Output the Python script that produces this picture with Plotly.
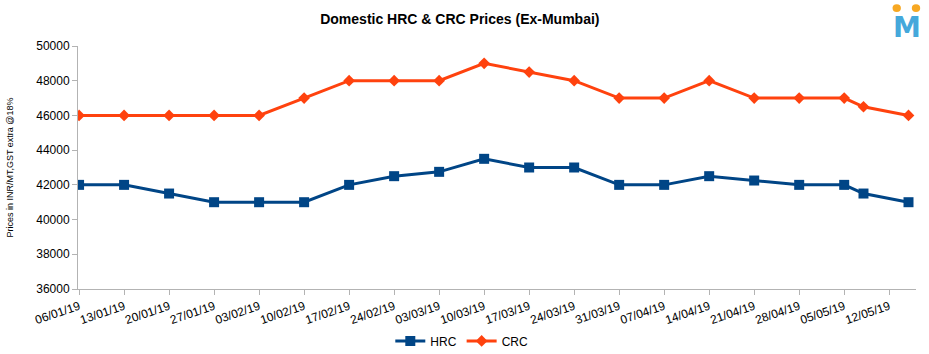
import plotly.graph_objects as go

dates = ["2019-01-06", "2019-01-13", "2019-01-20", "2019-01-27", "2019-02-03", "2019-02-10",
         "2019-02-17", "2019-02-24", "2019-03-03", "2019-03-10", "2019-03-17", "2019-03-24",
         "2019-03-31", "2019-04-07", "2019-04-14", "2019-04-21", "2019-04-28", "2019-05-05",
         "2019-05-08", "2019-05-15"]
hrc = [42000, 42000, 41500, 41000, 41000, 41000, 42000, 42500, 42750, 43500, 43000, 43000,
       42000, 42000, 42500, 42250, 42000, 42000, 41500, 41000]
crc = [46000, 46000, 46000, 46000, 46000, 47000, 48000, 48000, 48000, 49000, 48500, 48000,
       47000, 47000, 48000, 47000, 47000, 47000, 46500, 46000]
tick_dates = ["2019-01-06", "2019-01-13", "2019-01-20", "2019-01-27", "2019-02-03", "2019-02-10",
              "2019-02-17", "2019-02-24", "2019-03-03", "2019-03-10", "2019-03-17", "2019-03-24",
              "2019-03-31", "2019-04-07", "2019-04-14", "2019-04-21", "2019-04-28", "2019-05-05",
              "2019-05-12"]
tick_labels = ["06/01/19", "13/01/19", "20/01/19", "27/01/19", "03/02/19", "10/02/19",
               "17/02/19", "24/02/19", "03/03/19", "10/03/19", "17/03/19", "24/03/19",
               "31/03/19", "07/04/19", "14/04/19", "21/04/19", "28/04/19", "05/05/19",
               "12/05/19"]
y_ticks = [36000, 38000, 40000, 42000, 44000, 46000, 48000, 50000]

FONT = "Liberation Sans, Arial, sans-serif"

fig = go.Figure()
fig.add_trace(go.Scatter(x=dates, y=hrc, name="HRC", mode="lines+markers",
                         line=dict(color="#004586", width=3),
                         marker=dict(symbol="square", size=10, color="#004586")))
fig.add_trace(go.Scatter(x=dates, y=crc, name="CRC", mode="lines+markers",
                         line=dict(color="#ff420e", width=3),
                         marker=dict(symbol="diamond", size=9, color="#ff420e")))

fig.update_layout(
    width=929, height=354,
    margin=dict(l=78, r=13, t=46, b=65, autoexpand=False),
    paper_bgcolor="white", plot_bgcolor="white",
    font=dict(family=FONT, color="#000000", size=12),
    title=dict(text="<b>Domestic HRC & CRC Prices (Ex-Mumbai)</b>", x=0.495, xanchor="center",
               y=0.946, yanchor="middle", font=dict(size=14, family=FONT)),
    showlegend=True,
    legend=dict(orientation="h", x=0.458, xanchor="center", yref="container",
                y=0.037, yanchor="middle",
                font=dict(size=12, family=FONT), itemwidth=30, tracegroupgap=0),
    xaxis=dict(type="date", range=["2019-01-05 20:00", "2019-05-16 04:00"],
               tickvals=tick_dates, ticktext=tick_labels, tickangle=-19,
               showgrid=False, showline=True, linecolor="#b3b3b3", linewidth=1,
               ticks="outside", ticklen=5, tickcolor="#b3b3b3", automargin=False,
               tickfont=dict(size=12, family=FONT), zeroline=False),
    yaxis=dict(range=[36000, 50000], tickvals=y_ticks, tickformat="d", showgrid=False,
               showline=True, linecolor="#b3b3b3", linewidth=1, automargin=False,
               ticks="outside", ticklen=5, tickcolor="#b3b3b3",
               tickfont=dict(size=12, family=FONT), zeroline=False),
)

# y-axis title
fig.add_annotation(text="Prices in INR/MT,GST extra @18%", xref="paper", yref="paper",
                   x=-0.0823, y=0.5, textangle=-90, showarrow=False,
                   xanchor="center", yanchor="middle", font=dict(size=9, family=FONT))

# logo
fig.add_annotation(text="<b>M</b>", xref="paper", yref="paper", x=0.989, y=1.078,
                   xanchor="center", yanchor="middle", showarrow=False,
                   font=dict(size=28, color="#45a8db", family="DejaVu Sans"))
for cx in (0.977, 1.0):
    fig.add_shape(type="circle", xref="paper", yref="paper",
                  x0=cx - 0.005, x1=cx + 0.005, y0=1.14, y1=1.172,
                  fillcolor="#f7a823", line=dict(width=0))

fig.write_html("out.html")
